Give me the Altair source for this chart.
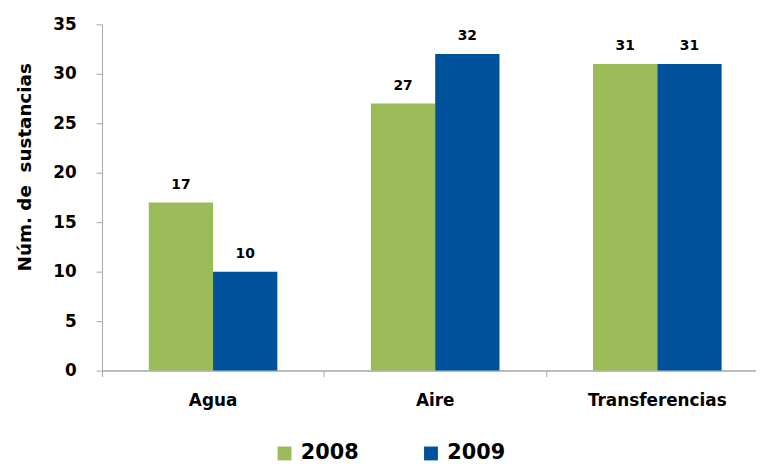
import altair as alt
import pandas as pd

categories = ["Agua", "Aire", "Transferencias"]
years = ["2008", "2009"]
values_2008 = [17, 27, 31]
values_2009 = [10, 32, 31]
colors = ["#9BBB59", "#00519C"]

rows = []
for c, v in zip(categories, values_2008):
    rows.append({"cat": c, "year": "2008", "val": v})
for c, v in zip(categories, values_2009):
    rows.append({"cat": c, "year": "2009", "val": v})
df = pd.DataFrame(rows)

FONT = "DejaVu Sans"

x = alt.X("cat:N", sort=categories, title=None,
          scale=alt.Scale(range=[0, 673.5], paddingInner=0, paddingOuter=0),
          axis=alt.Axis(labelAngle=0, labelFont=FONT, labelFontSize=17, labelFontWeight="bold",
                        labelColor="#000000", labelPadding=16, domainColor="#A6A6A6",
                        tickColor="#A6A6A6", tickSize=6, bandPosition=0, domainWidth=1.5))
xo = alt.XOffset("year:N", sort=years, scale=alt.Scale(paddingOuter=0.727, paddingInner=0))

base = alt.Chart(df)

bars = base.mark_bar().encode(
    x=x, xOffset=xo,
    y=alt.Y("val:Q", title="Núm. de\u00a0 sustancias",
            scale=alt.Scale(domain=[0, 35]),
            axis=alt.Axis(values=[0, 5, 10, 15, 20, 25, 30, 35], grid=False,
                          labelFont=FONT, labelFontSize=17, labelFontWeight="bold",
                          labelColor="#000000", labelPadding=20,
                          titleFont=FONT, titleFontSize=18.5, titleFontWeight="bold",
                          titleColor="#000000", titlePadding=19, titleY=144,
                          domainColor="#A6A6A6", tickColor="#A6A6A6", tickSize=6)),
    color=alt.Color("year:N", sort=years, scale=alt.Scale(domain=years, range=colors),
                    legend=alt.Legend(title=None, orient="none", direction="horizontal",
                                      legendX=174, legendY=423,
                                      symbolType="square", symbolSize=196,
                                      symbolStrokeWidth=0, symbolOpacity=1,
                                      labelFont=FONT, labelFontSize=21, labelFontWeight="bold",
                                      labelColor="#000000", labelOffset=6,
                                      columnPadding=62)),
)

labels = base.mark_text(font=FONT, fontSize=14, fontWeight="bold", color="#000000",
                        baseline="alphabetic", dy=-14).encode(
    x=x, xOffset=xo, y="val:Q", text="val:Q"
)

chart = (bars + labels).properties(
    width=661, height=350,
    autosize=alt.AutoSizeParams(type="none"),
    padding={"left": 95, "top": 14, "right": 0, "bottom": 100},
).configure_view(stroke=None)

chart.save("out.html", embed_options={"renderer": "svg", "actions": False})
